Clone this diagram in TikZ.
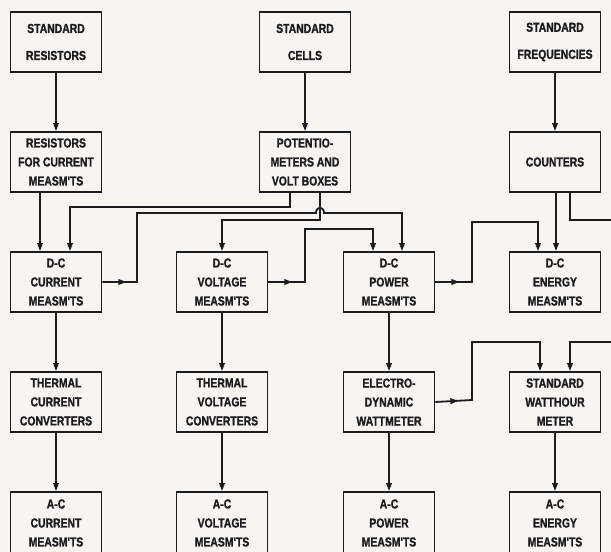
\documentclass[tikz,border=0pt]{standalone}
\usepackage{fontspec}
\setmainfont{Liberation Sans}
\newfontfamily\lettrage[FakeStretch=0.8, FakeBold=1.2]{Liberation Sans}
\usepackage{xcolor}
\usetikzlibrary{arrows.meta}
\usetikzlibrary{decorations.markings}
\definecolor{papier}{RGB}{247,245,239}
\definecolor{encre}{RGB}{28,28,28}
\def\largeur{611}
\def\hauteur{552}
\tikzset{
	boite/.style={draw=encre, line width=1.8pt, minimum width=91pt, minimum height=60pt, inner sep=0pt, align=center, text=encre, font=\lettrage\bfseries\fontsize{13}{19}\selectfont},
	fl/.style={draw=encre, line width=1.8pt, -{Triangle[length=8pt,width=5.5pt]}},
	flmil/.style={postaction={decorate}, decoration={markings, mark=at position #1 with {\arrow{Triangle[length=8pt,width=5.5pt]}}}}
}

\begin{document}
\begin{tikzpicture}[x=1pt, y=-1pt]
	\useasboundingbox (0,0) rectangle (\largeur,\hauteur);
	\fill[papier] (0,0) rectangle (\largeur,\hauteur);
	%\draw[step=50, line width=0.1pt, black!20!white] (0,0) grid (\largeur,\hauteur);
	% etalons
	\node[boite] (sres) at (56,42) {STANDARD\\[8pt]RESISTORS};
	\node[boite] (scell) at (305,42) {STANDARD\\[8pt]CELLS};
	\node[boite] (sfreq) at (555,42) {STANDARD\\[8pt]FREQUENCIES};
	\node[boite] (rcur) at (56,162) {RESISTORS\\FOR CURRENT\\MEASM'TS};
	\node[boite] (pot) at (305,162) {POTENTIO-\\METERS AND\\VOLT BOXES};
	\node[boite] (count) at (555,162) {COUNTERS};
	% continu
	\node[boite] (dccur) at (56,282) {D-C\\CURRENT\\MEASM'TS};
	\node[boite] (dcvol) at (222,282) {D-C\\VOLTAGE\\MEASM'TS};
	\node[boite] (dcpow) at (389,282) {D-C\\POWER\\MEASM'TS};
	\node[boite] (dcen) at (555,282) {D-C\\ENERGY\\MEASM'TS};
	\node[boite] (thcur) at (56,402) {THERMAL\\CURRENT\\CONVERTERS};
	\node[boite] (thvol) at (222,402) {THERMAL\\VOLTAGE\\CONVERTERS};
	\node[boite] (elec) at (389,402) {ELECTRO-\\DYNAMIC\\WATTMETER};
	\node[boite] (wh) at (555,402) {STANDARD\\WATTHOUR\\METER};
	% alternatif
	\node[boite, minimum height=62pt] (accur) at (56,523) {A-C\\CURRENT\\MEASM'TS};
	\node[boite, minimum height=62pt] (acvol) at (222,523) {A-C\\VOLTAGE\\MEASM'TS};
	\node[boite, minimum height=62pt] (acpow) at (389,523) {A-C\\POWER\\MEASM'TS};
	\node[boite, minimum height=62pt] (acen) at (555,523) {A-C\\ENERGY\\MEASM'TS};
	% fleches droites
	\foreach \a/\b in {sres/rcur, scell/pot, sfreq/count, dccur/thcur, thcur/accur, dcvol/thvol, thvol/acvol, dcpow/elec, elec/acpow, wh/acen}
		\draw[fl] (\a) -- (\b);
	\draw[fl] ([xshift=-16pt]rcur.south) -- ([xshift=-16pt]dccur.north);
	\draw[fl] ([xshift=-15pt]pot.south) -- ++(0,14) -| ([xshift=14pt]dccur.north);
	\draw[fl] ([xshift=15pt]pot.south) -- (320,220) -| (dcvol.north);
	\draw[fl, flmil=24pt] (dccur.east) -- (137,282) -- (137,213) -- (316,213) .. controls (316,206) and (324,206) .. (324,213) -- (402,213) -- ([xshift=13pt]dcpow.north);
	\draw[fl, flmil=24pt] (dcvol.east) -- (305,282) -- (305,229) -| ([xshift=-16pt]dcpow.north);
	\draw[fl, flmil=24pt] (dcpow.east) -- (472,282) -- (472,222) -| ([xshift=-17pt]dcen.north);
	\draw[fl] ([xshift=1pt]count.south) -- ([xshift=1pt]dcen.north);
	\draw[fl] ([xshift=15pt]count.south) -- (570,220) -- (616,220) -- (616,342) -| ([xshift=15pt]wh.north);
	\draw[fl, flmil=23pt] (elec.east) -- (472,400) -- (472,342) -| ([xshift=-15pt]wh.north);
\end{tikzpicture}
\end{document}
